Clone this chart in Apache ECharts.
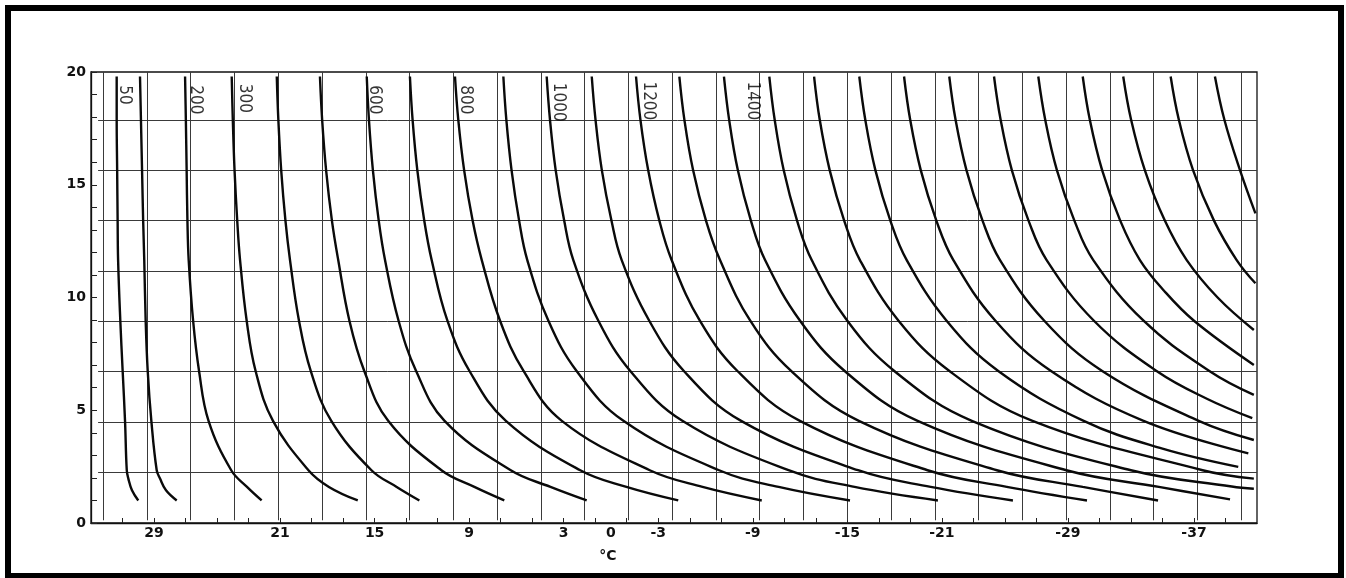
<!DOCTYPE html>
<html>
<head>
<meta charset="utf-8">
<title>Wind chill chart</title>
<script src="https://cdn.jsdelivr.net/npm/echarts@6.0.0/dist/echarts.min.js"></script>
<style>
html, body { margin: 0; padding: 0; background: #ffffff; }
#chart { width: 1346px; height: 578px; }
</style>
</head>
<body>
<div id="chart"></div>
<script>
// Air temperature axis (°C): printed values and minor ticks
const tempLabels = [29, 21, 15, 9, 3, 0, -3, -9, -15, -21, -29, -37];
const tempTicks = [31, 29, 27, 25, 23, 21, 19, 17, 15, 13, 11, 9, 7, 5, 3, 1, -1, -3, -5, -7, -9, -11,
  -13, -15, -17, -19, -21, -23, -25, -27, -29, -31, -33, -35, -37, -39];
// Wind speed axis (m/s)
const windLabels = [0, 5, 10, 15, 20];
// Vertical temperature guide lines (°C)
const tempGuides = [32.22, 29.44, 26.67, 23.89, 21.11, 18.33, 15.56, 12.78, 10.0, 7.22, 4.44, 1.67,
  -1.11, -3.89, -6.67, -9.44, -12.22, -15.0, -17.78, -20.56, -23.33, -26.11, -28.89, -31.67,
  -34.44, -37.22, -40.0];
// Horizontal wind speed guide lines (m/s)
const windGuides = [2.24, 4.47, 6.71, 8.94, 11.18, 13.41, 15.65, 17.88];

// Cooling-power contours, each as [temperature °C, wind speed m/s], top to bottom
const c50 = [[31.37, 19.8], [31.37, 17.88], [31.34, 15.65], [31.31, 13.41], [31.28, 11.66], [31.14, 8.97],
  [30.99, 6.73], [30.84, 4.53], [30.73, 2.34], [30.63, 1.97], [30.4, 1.45], [30.0, 1.0]];
const c100 = [[29.89, 19.8], [29.83, 17.88], [29.76, 15.65], [29.69, 13.41], [29.62, 11.66], [29.53, 8.97],
  [29.4, 6.73], [29.17, 4.53], [28.83, 2.34], [28.62, 1.97], [28.24, 1.45], [27.56, 1.0]];
const c200 = [[27.03, 19.8], [26.98, 17.88], [26.93, 15.65], [26.88, 13.41], [26.8, 11.66], [26.52, 8.97],
  [26.14, 6.73], [25.54, 4.53], [24.1, 2.34], [23.1, 1.6], [22.17, 1.0]];
const c300 = [[24.07, 19.8], [24.0, 17.88], [23.89, 15.65], [23.72, 13.41], [23.54, 11.66], [23.12, 8.97],
  [22.55, 6.73], [21.45, 4.53], [19.2, 2.34], [17.9, 1.6], [16.07, 1.0]];
const c400 = [[21.21, 19.8], [21.11, 17.88], [20.93, 15.65], [20.66, 13.41], [20.37, 11.66], [19.8, 8.97],
  [19.05, 6.73], [17.75, 4.53], [15.2, 2.34], [13.6, 1.6], [12.16, 1.0]];
const c500 = [[18.47, 19.8], [18.33, 17.88], [18.08, 15.65], [17.71, 13.41], [17.31, 11.66], [16.6, 8.97],
  [15.65, 6.73], [14.14, 4.53], [10.76, 2.34], [8.67, 1.6], [6.77, 1.0]];
const c600 = [[15.5, 19.8], [15.36, 17.88], [15.11, 15.65], [14.74, 13.41], [14.34, 11.66], [13.48, 8.97],
  [12.36, 6.73], [10.56, 4.53], [6.36, 2.34], [3.84, 1.6], [1.54, 1.0]];
const c700 = [[12.76, 19.8], [12.59, 17.88], [12.29, 15.65], [11.85, 13.41], [11.38, 11.66], [10.38, 8.97],
  [8.97, 6.73], [6.67, 4.53], [1.95, 2.34], [-0.98, 1.6], [-4.27, 1.0]];
const c800 = [[9.9, 19.8], [9.69, 17.88], [9.32, 15.65], [8.78, 13.41], [8.2, 11.66], [7.04, 8.97],
  [5.54, 6.73], [3.12, 4.53], [-2.46, 2.34], [-5.81, 1.6], [-9.57, 1.0]];
const c900 = [[6.83, 19.8], [6.64, 17.88], [6.31, 15.65], [5.83, 13.41], [5.31, 11.66], [3.97, 8.97],
  [2.17, 6.73], [-0.79, 4.53], [-6.86, 2.34], [-10.64, 1.6], [-15.17, 1.0]];
const c1000 = [[4.08, 19.8], [3.87, 17.88], [3.51, 15.65], [2.97, 13.41], [2.39, 11.66], [0.8, 8.97],
  [-1.24, 6.73], [-4.53, 4.53], [-11.27, 2.34], [-15.46, 1.6], [-20.75, 1.0]];
const c1100 = [[1.22, 19.8], [0.98, 17.88], [0.58, 15.65], [-0.03, 13.41], [-0.68, 11.66], [-2.43, 8.97],
  [-4.64, 6.73], [-8.26, 4.53], [-15.68, 2.34], [-20.29, 1.6], [-25.51, 1.0]];
const c1200 = [[-1.59, 19.8], [-1.87, 17.88], [-2.36, 15.65], [-3.07, 13.41], [-3.85, 11.66], [-5.64, 8.97],
  [-8.04, 6.73], [-11.99, 4.53], [-20.09, 2.34], [-25.12, 1.6], [-30.21, 1.0]];
const c1300 = [[-4.34, 19.8], [-4.66, 17.88], [-5.21, 15.65], [-6.03, 13.41], [-6.92, 11.66], [-8.84, 8.97],
  [-11.45, 6.73], [-15.73, 4.53], [-24.49, 2.34], [-29.94, 1.6], [-34.72, 1.0]];
const c1400 = [[-7.17, 19.8], [-7.5, 17.88], [-8.05, 15.65], [-8.88, 13.41], [-9.78, 11.66], [-12.0, 8.97],
  [-14.85, 6.73], [-19.46, 4.53], [-28.9, 2.34], [-34.77, 1.6], [-39.29, 1.05]];
const c1500 = [[-10.05, 19.8], [-10.39, 17.88], [-10.96, 15.65], [-11.81, 13.41], [-12.74, 11.66], [-15.0, 8.97],
  [-18.0, 6.73], [-22.9, 4.53], [-33.0, 2.34], [-39.4, 1.62], [-40.8, 1.52]];
const c1600 = [[-12.89, 19.8], [-13.25, 17.88], [-13.88, 15.65], [-14.8, 13.41], [-15.8, 11.66], [-18.25, 8.97],
  [-21.5, 6.73], [-26.75, 4.53], [-37.55, 2.34], [-40.8, 1.97]];
const c1700 = [[-15.76, 19.8], [-16.14, 17.88], [-16.78, 15.65], [-17.73, 13.41], [-18.77, 11.66], [-21.3, 8.97],
  [-24.6, 6.73], [-30.0, 4.53], [-35.0, 3.3], [-39.81, 2.49]];
const c1800 = [[-18.6, 19.8], [-18.99, 17.88], [-19.66, 15.65], [-20.65, 13.41], [-21.73, 11.66], [-24.4, 8.97],
  [-27.95, 6.73], [-33.8, 4.53], [-40.45, 3.09]];
const c1900 = [[-21.47, 19.8], [-21.87, 17.88], [-22.56, 15.65], [-23.58, 13.41], [-24.69, 11.66], [-27.5, 8.97],
  [-31.2, 6.73], [-37.3, 4.53], [-40.8, 3.68]];
const c2000 = [[-24.31, 19.8], [-24.73, 17.88], [-25.44, 15.65], [-26.5, 13.41], [-27.65, 11.66], [-30.65, 8.97],
  [-34.65, 6.73], [-37.85, 5.5], [-40.7, 4.65]];
const c2100 = [[-27.12, 19.8], [-27.56, 17.88], [-28.3, 15.65], [-29.41, 13.41], [-30.61, 11.66], [-33.8, 8.97],
  [-38.0, 6.73], [-40.8, 5.68]];
const c2200 = [[-29.94, 19.8], [-30.39, 17.88], [-31.17, 15.65], [-32.32, 13.41], [-33.57, 11.66], [-35.1, 10.3],
  [-37.0, 8.97], [-40.8, 7.01]];
const c2300 = [[-32.51, 19.8], [-33.01, 17.88], [-33.88, 15.65], [-35.15, 13.41], [-36.54, 11.66], [-38.5, 10.0],
  [-40.8, 8.56]];
const c2400 = [[-35.52, 19.8], [-36.04, 17.88], [-36.94, 15.65], [-38.27, 13.41], [-39.71, 11.66], [-40.9, 10.63]];
const c2500 = [[-38.33, 19.8], [-38.93, 17.88], [-39.92, 15.65], [-40.9, 13.73]];

const contourValues = [50, 100, 200, 300, 400, 500, 600, 700, 800, 900, 1000, 1100, 1200,
  1300, 1400, 1500, 1600, 1700, 1800, 1900, 2000, 2100, 2200, 2300, 2400, 2500];
const contours = [c50, c100, c200, c300, c400, c500, c600, c700, c800, c900, c1000, c1100, c1200,
  c1300, c1400, c1500, c1600, c1700, c1800, c1900, c2000, c2100, c2200, c2300, c2400, c2500];

// Printed contour values and where they sit (°C, m/s)
const labelledValues = [50, 200, 300, 600, 800, 1000, 1200, 1400];
const labelSpots = [[30.91, 18.98], [26.35, 18.76], [23.25, 18.83], [15.03, 18.76], [9.21, 18.76],
  [3.34, 18.66], [-2.37, 18.72], [-8.98, 18.72]];

const INK = '#111111';
const FONT = 'DejaVu Sans';

const chart = echarts.init(document.getElementById('chart'), null, { renderer: 'canvas' });

const guideData = tempGuides.map(t => ({ coords: [[t, 0.12], [t, 20]] }))
  .concat(windGuides.map(v => ({ coords: [[32.55, v], [-41, v]] })));

const contourSeries = contours.map((pts, i) => ({
  type: 'line',
  name: String(contourValues[i]),
  data: pts,
  smooth: 0.4,
  symbol: 'none',
  showSymbol: false,
  silent: true,
  z: 3,
  lineStyle: { color: '#0a0a0a', width: 2.4 }
}));

chart.setOption({
  animation: false,
  backgroundColor: '#ffffff',
  grid: {
    left: 91, right: 89, top: 72, bottom: 55,
    show: true, borderColor: INK, borderWidth: 1.3, backgroundColor: 'transparent',
    outerBoundsMode: 'none'
  },
  xAxis: {
    type: 'value', min: -41, max: 33, inverse: true,
    axisLine: { show: true, onZero: false, lineStyle: { color: INK, width: 1.3 } },
    axisTick: { show: true, inside: true, length: 5, customValues: tempTicks, lineStyle: { color: '#222', width: 1 } },
    axisLabel: { customValues: tempLabels, margin: 3, color: INK, fontSize: 14, fontWeight: 'bold', fontFamily: FONT },
    splitLine: { show: false }
  },
  yAxis: {
    type: 'value', min: 0, max: 20, interval: 1,
    axisLine: { show: true, onZero: false, lineStyle: { color: INK, width: 1.3 } },
    axisTick: { show: true, inside: true, length: 6, lineStyle: { color: '#222', width: 1 } },
    axisLabel: { customValues: windLabels, margin: 5, color: INK, fontSize: 14, fontWeight: 'bold', fontFamily: FONT },
    splitLine: { show: false }
  },
  graphic: [
    { type: 'rect', shape: { x: 8, y: 8, width: 1333, height: 568 }, style: { fill: 'none', stroke: '#000', lineWidth: 6 }, silent: true },
    { type: 'text', x: 608, y: 556, style: { text: '°C', fill: INK, font: 'bold 14px "DejaVu Sans"', textAlign: 'center', textVerticalAlign: 'middle' }, silent: true }
  ],
  series: [
    {
      type: 'lines', coordinateSystem: 'cartesian2d', polyline: false, silent: true, z: 1,
      lineStyle: { color: '#3a3a3a', width: 1, opacity: 1 },
      data: guideData
    },
    ...contourSeries,
    {
      type: 'scatter', silent: true, z: 4, symbolSize: 1,
      itemStyle: { color: 'rgba(0,0,0,0)' },
      data: labelSpots.map((p, i) => ({ value: p, name: String(labelledValues[i]) })),
      label: {
        show: true, position: 'inside', rotate: -90, formatter: p => p.name,
        color: '#000', fontSize: 17, fontFamily: 'DejaVu Sans Condensed, DejaVu Sans'
      }
    }
  ]
});
</script>
</body>
</html>
